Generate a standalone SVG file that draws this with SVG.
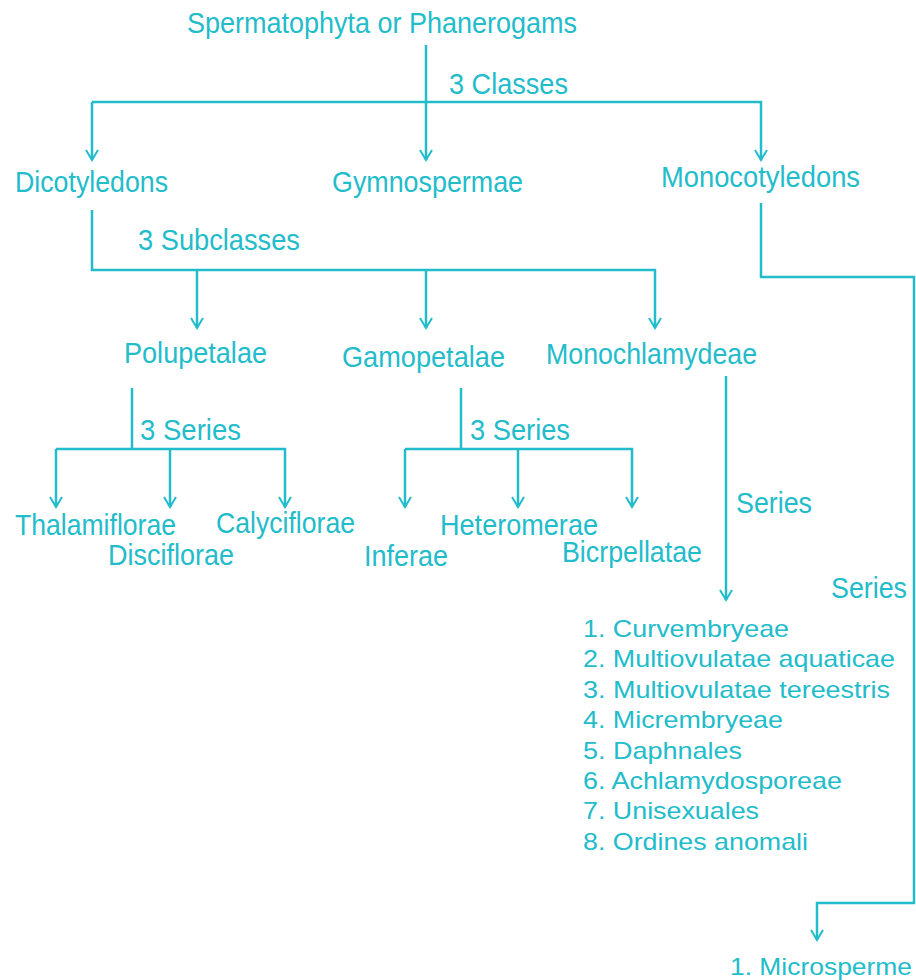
<svg xmlns="http://www.w3.org/2000/svg" width="916" height="980" viewBox="0 0 916 980">
<style>
text{font-family:"Liberation Sans",Arial,sans-serif;fill:#22bccb}
.h{font-size:29px}
.l{font-size:24px}
.c{fill:none;stroke:#22bccb;stroke-width:2.5}
</style>
<defs>
<marker id="ah" viewBox="-12 -8 14 16" refX="0" refY="0" markerWidth="14" markerHeight="16" orient="auto" markerUnits="userSpaceOnUse">
<path d="M-10,-6 L0,0 L-10,6" fill="none" stroke="#22bccb" stroke-width="2"/>
</marker>
</defs>
<rect width="916" height="980" fill="#ffffff"/>
<g id="connectors">
<path class="c" d="M426,45 V160" marker-end="url(#ah)"/>
<path class="c" d="M92,102 H761 V160" marker-end="url(#ah)"/>
<path class="c" d="M92,102 V160" marker-end="url(#ah)"/>
<path class="c" d="M92,210 V270 H655 V328" marker-end="url(#ah)"/>
<path class="c" d="M197,270 V328" marker-end="url(#ah)"/>
<path class="c" d="M426,270 V328" marker-end="url(#ah)"/>
<path class="c" d="M761,203 V277 H914 V903 H817 V940" marker-end="url(#ah)"/>
<path class="c" d="M132,388 V449"/>
<path class="c" d="M56,449 H285 V507" marker-end="url(#ah)"/>
<path class="c" d="M56,449 V507" marker-end="url(#ah)"/>
<path class="c" d="M170,449 V507" marker-end="url(#ah)"/>
<path class="c" d="M461,388 V449"/>
<path class="c" d="M405,449 H632 V507" marker-end="url(#ah)"/>
<path class="c" d="M405,449 V507" marker-end="url(#ah)"/>
<path class="c" d="M518,449 V507" marker-end="url(#ah)"/>
<path class="c" d="M726,376 V600" marker-end="url(#ah)"/>
</g>
<g id="root"><text class="h" x="187" y="33" textLength="390" lengthAdjust="spacingAndGlyphs">Spermatophyta or Phanerogams</text></g>
<g id="lbl-classes"><text class="h" x="449" y="94" textLength="119" lengthAdjust="spacingAndGlyphs">3 Classes</text></g>
<g id="dicot"><text class="h" x="15" y="192" textLength="153" lengthAdjust="spacingAndGlyphs">Dicotyledons</text></g>
<g id="gymno"><text class="h" x="332" y="192" textLength="191" lengthAdjust="spacingAndGlyphs">Gymnospermae</text></g>
<g id="monocot"><text class="h" x="661" y="187" textLength="199" lengthAdjust="spacingAndGlyphs">Monocotyledons</text></g>
<g id="lbl-subclasses"><text class="h" x="138" y="250" textLength="162" lengthAdjust="spacingAndGlyphs">3 Subclasses</text></g>
<g id="polupetalae"><text class="h" x="124" y="363" textLength="143" lengthAdjust="spacingAndGlyphs">Polupetalae</text></g>
<g id="gamopetalae"><text class="h" x="342" y="367" textLength="163" lengthAdjust="spacingAndGlyphs">Gamopetalae</text></g>
<g id="monochlamydeae"><text class="h" x="546" y="364" textLength="211" lengthAdjust="spacingAndGlyphs">Monochlamydeae</text></g>
<g id="lbl-series1"><text class="h" x="140" y="440" textLength="101" lengthAdjust="spacingAndGlyphs">3 Series</text></g>
<g id="lbl-series2"><text class="h" x="470" y="440" textLength="100" lengthAdjust="spacingAndGlyphs">3 Series</text></g>
<g id="thalamiflorae"><text class="h" x="15" y="535" textLength="161" lengthAdjust="spacingAndGlyphs">Thalamiflorae</text></g>
<g id="calyciflorae"><text class="h" x="216" y="533" textLength="139" lengthAdjust="spacingAndGlyphs">Calyciflorae</text></g>
<g id="disciflorae"><text class="h" x="108" y="565" textLength="126" lengthAdjust="spacingAndGlyphs">Disciflorae</text></g>
<g id="heteromerae"><text class="h" x="440" y="535" textLength="158" lengthAdjust="spacingAndGlyphs">Heteromerae</text></g>
<g id="inferae"><text class="h" x="364" y="566" textLength="84" lengthAdjust="spacingAndGlyphs">Inferae</text></g>
<g id="bicrpellatae"><text class="h" x="562" y="562" textLength="140" lengthAdjust="spacingAndGlyphs">Bicrpellatae</text></g>
<g id="lbl-series3"><text class="h" x="736" y="513" textLength="76" lengthAdjust="spacingAndGlyphs">Series</text></g>
<g id="lbl-series4"><text class="h" x="831" y="598" textLength="76" lengthAdjust="spacingAndGlyphs">Series</text></g>
<g id="monochlamydeae-series">
<text class="l" x="583" y="637" textLength="206" lengthAdjust="spacingAndGlyphs">1. Curvembryeae</text>
<text class="l" x="583" y="667.4" textLength="312" lengthAdjust="spacingAndGlyphs">2. Multiovulatae aquaticae</text>
<text class="l" x="583" y="697.8" textLength="307" lengthAdjust="spacingAndGlyphs">3. Multiovulatae tereestris</text>
<text class="l" x="583" y="728.2" textLength="200" lengthAdjust="spacingAndGlyphs">4. Micrembryeae</text>
<text class="l" x="583" y="758.6" textLength="159" lengthAdjust="spacingAndGlyphs">5. Daphnales</text>
<text class="l" x="583" y="789" textLength="259" lengthAdjust="spacingAndGlyphs">6. Achlamydosporeae</text>
<text class="l" x="583" y="819.4" textLength="176" lengthAdjust="spacingAndGlyphs">7. Unisexuales</text>
<text class="l" x="583" y="849.8" textLength="225" lengthAdjust="spacingAndGlyphs">8. Ordines anomali</text>
</g>
<g id="microsperme"><text class="l" x="730" y="975" textLength="182" lengthAdjust="spacingAndGlyphs">1. Microsperme</text></g>
</svg>
